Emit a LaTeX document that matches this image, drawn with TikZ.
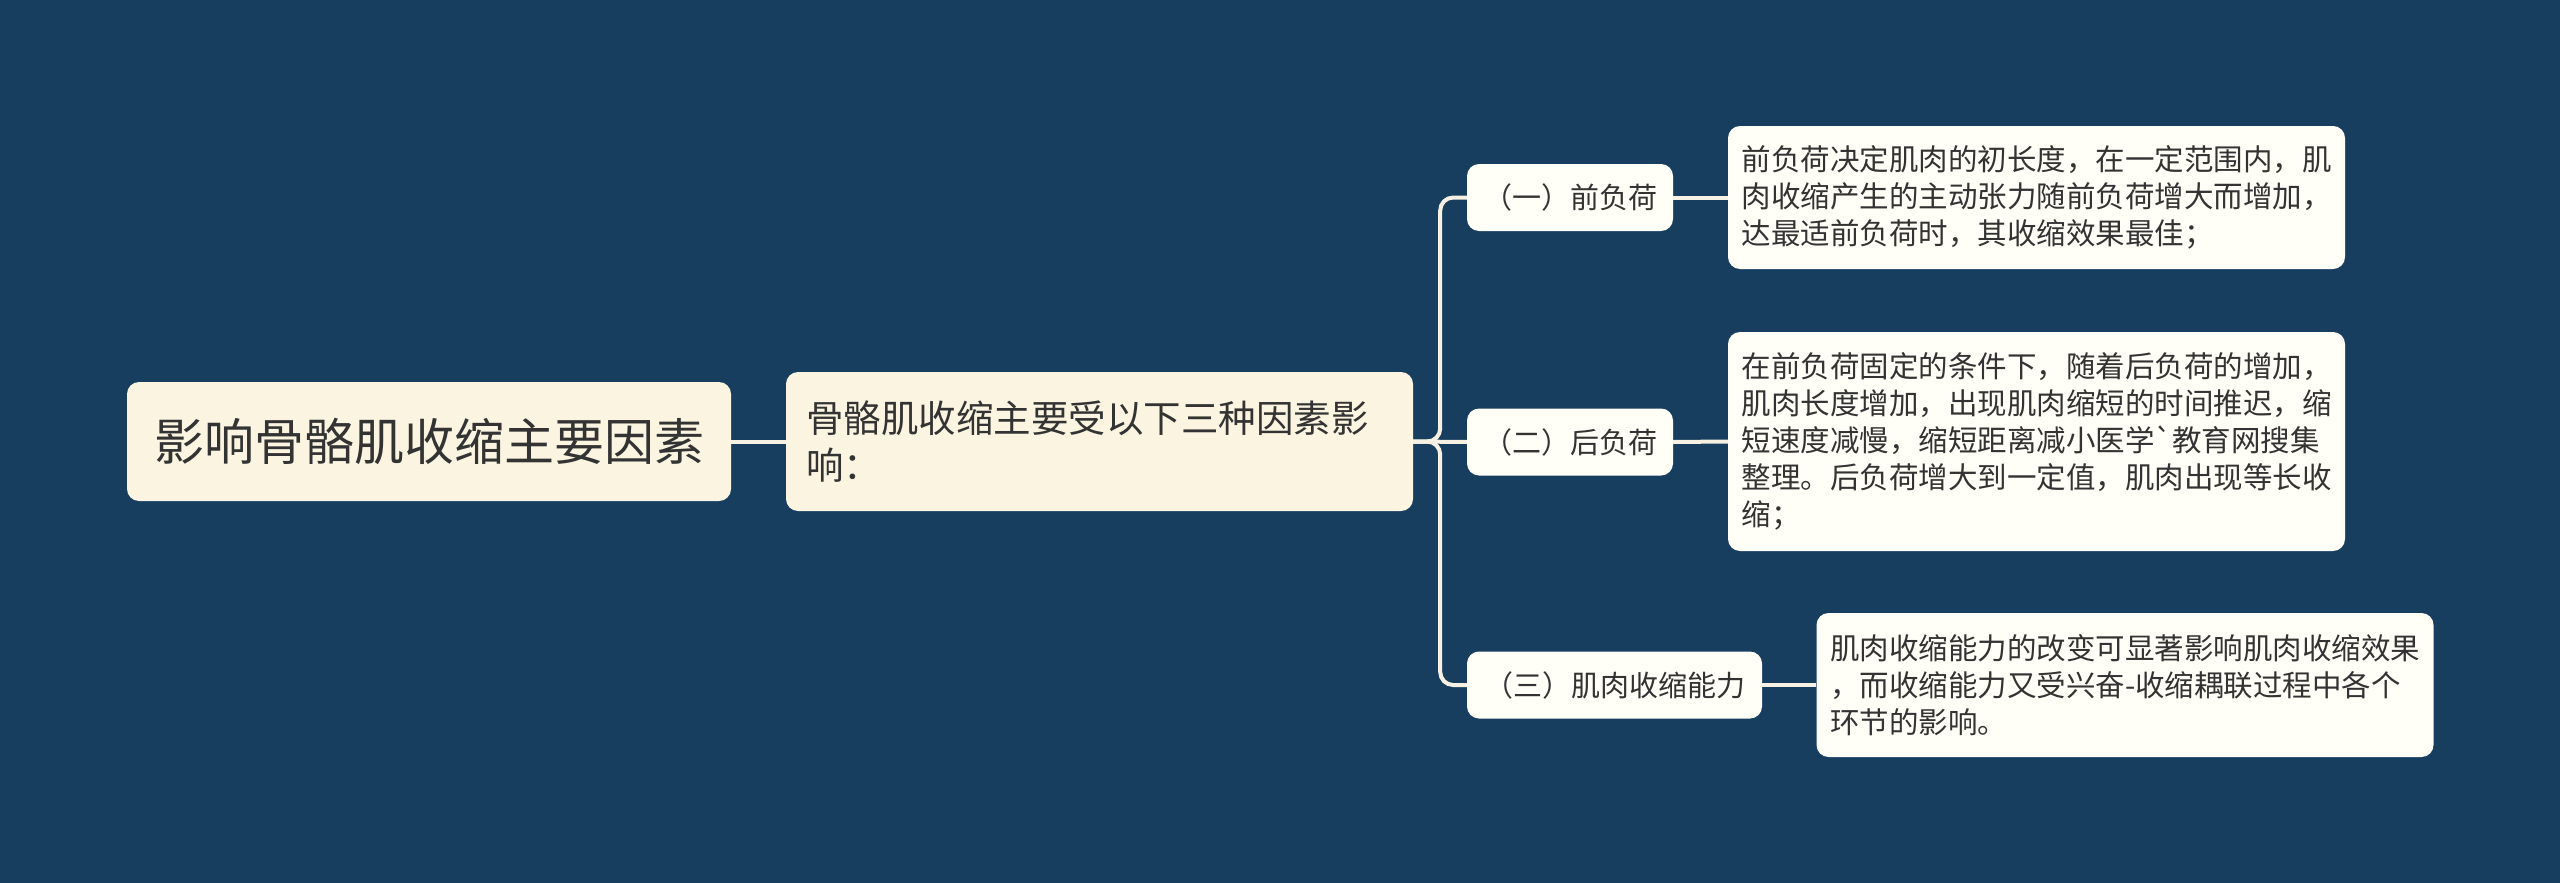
\documentclass[tikz,border=0pt]{standalone}
\usepackage{fontspec}
\setmainfont{Noto Sans CJK SC}[Ligatures=TeXOff]
\definecolor{bgblue}{HTML}{173E5F}
\definecolor{rootfill}{HTML}{FAF4E0}
\definecolor{leaffill}{HTML}{FFFEF7}
\definecolor{txt}{HTML}{333333}
\definecolor{linec}{HTML}{F6F1E2}
\begin{document}
\begin{tikzpicture}[x=1pt,y=-1pt,
  box/.style={rounded corners=12pt, text=txt, inner sep=0pt},
  rootbox/.style={box, fill=rootfill, minimum width=604pt, minimum height=119pt,
    font=\fontsize{50}{60}\selectfont},
  midbox/.style={box, fill=rootfill, minimum height=139pt, text width=587pt,
    inner xsep=20pt, align=left, font=\fontsize{37.5}{47}\selectfont},
  childbox/.style={box, fill=leaffill, minimum height=67pt,
    font=\fontsize{29}{36}\selectfont},
  leafbox/.style={box, fill=leaffill, text width=590pt, inner xsep=13.5pt,
    align=left, font=\fontsize{29.5}{37}\selectfont},
  conn/.style={draw=linec, line width=4pt},
]
\fill[bgblue] (0,0) rectangle (2560,883);
\useasboundingbox (0,0) rectangle (2560,883);

\node[rootbox] (root) at (429,441.5) {影响骨骼肌收缩主要因素};
\node[midbox] (mid) at (1099.5,441.5) {骨骼肌收缩主要受以下三种因素影\\响：};

\node[childbox, minimum width=206pt] (c1) at (1570,197.5) {（一）前负荷};
\node[childbox, minimum width=206pt] (c2) at (1570,442) {（二）后负荷};
\node[childbox, minimum width=295pt] (c3) at (1614.5,685) {（三）肌肉收缩能力};

\node[leafbox, minimum height=143pt] (l1) at (2036.5,197.5)
  {前负荷决定肌肉的初长度，在一定范围内，肌\\肉收缩产生的主动张力随前负荷增大而增加，\\达最适前负荷时，其收缩效果最佳；};
\node[leafbox, minimum height=219pt] (l2) at (2036.5,441.5)
  {在前负荷固定的条件下，随着后负荷的增加，\\肌肉长度增加，出现肌肉缩短的时间推迟，缩\\短速度减慢，缩短距离减小医学`教育网搜集\\整理。后负荷增大到一定值，肌肉出现等长收\\缩；};
\node[leafbox, minimum height=144pt] (l3) at (2125,685)
  {肌肉收缩能力的改变可显著影响肌肉收缩效果\\，而收缩能力又受兴奋-收缩耦联过程中各个\\环节的影响。};

\draw[conn] (root.east) -- (mid.west);
\draw[conn, rounded corners=13pt] (mid.east) -- ++(27,0) |- (c1.west);
\draw[conn] (mid.east) -- (c2.west);
\draw[conn, rounded corners=13pt] (mid.east) -- ++(27,0) |- (c3.west);
\draw[conn] (c1.east) -- (l1.west);
\draw[conn] (c2.east) -- (l2.west);
\draw[conn] (c3.east) -- (l3.west);
\end{tikzpicture}
\end{document}
